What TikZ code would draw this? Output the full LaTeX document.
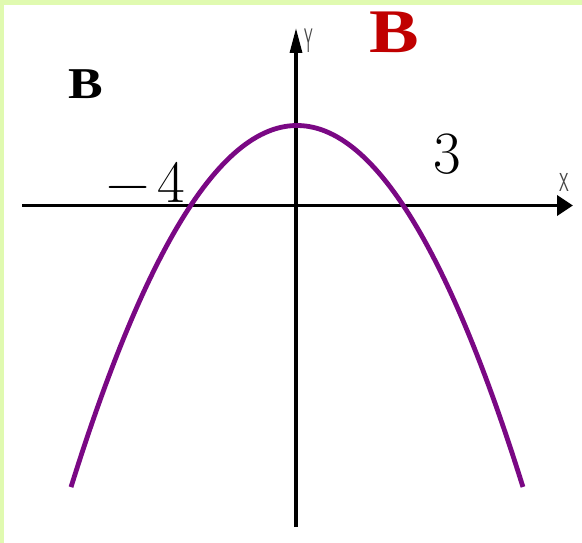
\documentclass[tikz,border=0pt]{standalone}
\usepackage{fontspec}
\newfontfamily\timesbold{Liberation Serif}[BoldFont={* Bold}]
\usetikzlibrary{arrows.meta}
\definecolor{bordergreen}{RGB}{224,250,176}
\definecolor{curvepurple}{RGB}{122,8,132}
\definecolor{darkred}{RGB}{192,0,0}
\definecolor{axisgray}{RGB}{70,70,70}
\tikzset{
  lbl/.style={inner sep=0pt, outer sep=0pt, anchor=base},
  axis/.style={line width=3.6pt, black},
  curve/.style={line width=4.8pt, curvepurple, line join=round}
}
\begin{document}
\begin{tikzpicture}[x=1pt,y=-1pt]
\useasboundingbox (0,0) rectangle (582,543);
\fill[white] (0,0) rectangle (582,543);
% border strips
\fill[bordergreen] (0,0) rectangle (582,5);
\fill[bordergreen] (0,0) rectangle (4,543);
% axes
\coordinate (xl) at (22,205.5);
\coordinate (xr) at (573,205.5);
\coordinate (yb) at (296,527);
\coordinate (yt) at (296,28);
\draw[axis, -{Triangle[length=16pt,width=20pt]}] (xl) -- (xr);
\draw[axis, line width=3.2pt, -{Triangle[length=25pt,width=12pt]}] (yb) -- (yt);
% parabola
\draw[curve] plot[domain=-2.26:2.26, samples=120] ({297+100*\x},{125.5+70.8*\x*\x});
% labels
\node[lbl, text=axisgray, font=\sffamily\fontsize{34}{36}\selectfont, xscale=0.4] (ylab) at (309,53) {Y};
\node[lbl, text=axisgray, font=\sffamily\fontsize{26}{28}\selectfont, xscale=0.6] (xlab) at (564,191) {X};
\node[lbl, font=\timesbold\bfseries\fontsize{44}{46}\selectfont, xscale=1.18] (bblack) at (85.5,99) {B};
\node[lbl, text=darkred, font=\timesbold\bfseries\fontsize{62}{64}\selectfont, xscale=1.2] (bred) at (394,53) {B};
\node[lbl, font=\fontsize{60}{62}\selectfont] (mfour) at (146,202) {−\hspace{8pt}4};
\node[lbl, font=\fontsize{60}{62}\selectfont] (three) at (447,173) {3};
\end{tikzpicture}
\end{document}
